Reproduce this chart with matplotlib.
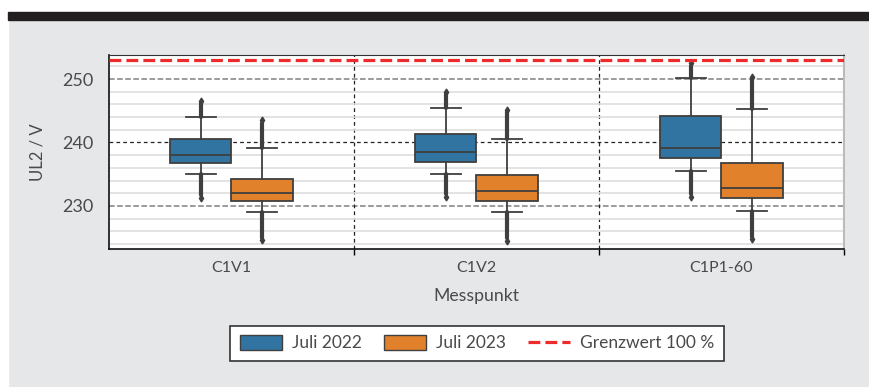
import matplotlib.pyplot as plt
from matplotlib.patches import Patch, Rectangle
from matplotlib.lines import Line2D

# Data (per category: [Juli 2022, Juli 2023])
categories = ["C1V1", "C1V2", "C1P1-60"]
series = ["Juli 2022", "Juli 2023"]
q1 = [[236.7, 230.7], [236.9, 230.8], [237.5, 231.2]]
med = [[238.1, 232.1], [238.5, 232.3], [239.1, 232.8]]
q3 = [[240.5, 234.3], [241.3, 234.8], [244.2, 236.7]]
whislo = [[235.0, 229.0], [235.1, 229.0], [235.5, 229.2]]
whishi = [[244.0, 239.1], [245.5, 240.6], [250.2, 245.3]]
flier_lo = [[231.3, 224.6], [231.4, 224.5], [231.4, 224.7]]
flier_hi = [[246.6, 243.5], [248.0, 245.2], [252.5, 250.4]]
grenzwert = 253

colors = ["#3274a1", "#e1812c"]
line_col = "#3f3f3f"
text_col = "#4a4a4a"

plt.rcParams["font.family"] = ["Lato", "DejaVu Sans"]

fig = plt.figure(figsize=(8.69, 3.87), dpi=100, facecolor="#e6e7e9")
# page decoration: white margin on left/top and black band
fig.patches.append(Rectangle((0, 0), 8 / 869, 1, transform=fig.transFigure,
                             color="white", zorder=-2))
fig.patches.append(Rectangle((0, 1 - 12 / 387), 1, 12 / 387, transform=fig.transFigure,
                             color="white", zorder=-2))
fig.patches.append(Rectangle((8 / 869, 1 - 20 / 387), 1, 8 / 387, transform=fig.transFigure,
                             color="#231f20", zorder=-1))

ax = fig.add_axes([0.1254, 0.3566, 0.8458, 0.5013])
ax.set_facecolor("white")

width = 0.25
for j, s in enumerate(series):
    stats = []
    pos = []
    for i in range(len(categories)):
        stats.append(dict(med=med[i][j], q1=q1[i][j], q3=q3[i][j],
                          whislo=whislo[i][j], whishi=whishi[i][j], fliers=[]))
        pos.append(i + (j - 0.5) * width)
    ax.bxp(stats, positions=pos, widths=width, capwidths=width / 2,
           patch_artist=True, showfliers=False, manage_ticks=False,
           boxprops=dict(facecolor=colors[j], edgecolor=line_col, linewidth=1.3),
           medianprops=dict(color=line_col, linewidth=1.3),
           whiskerprops=dict(color=line_col, linewidth=1.3),
           capprops=dict(color=line_col, linewidth=1.3), zorder=3)
    # dense outliers beyond the whiskers
    for i in range(len(categories)):
        x = pos[i]
        ax.plot([x, x], [whishi[i][j], flier_hi[i][j] - 0.4], color=line_col,
                lw=3, solid_capstyle="round", zorder=2.5)
        ax.plot([x, x], [whislo[i][j], flier_lo[i][j] + 0.4], color=line_col,
                lw=3, solid_capstyle="round", zorder=2.5)
        ax.plot([x, x], [flier_hi[i][j], flier_lo[i][j]], ls="none", marker="d",
                ms=3.5, color=line_col, zorder=2.5)

ax.set_xlim(-0.5, 2.5)
ax.set_ylim(223.2, 253.8)

# grid
ax.set_yticks([230, 240, 250])
ax.set_yticks(range(224, 254, 2), minor=True)
ax.grid(axis="y", which="minor", color="#dedede", lw=1.2, zorder=0)
for y in [230, 250]:
    ax.axhline(y, color="#808080", ls="--", lw=1.1, zorder=1)
ax.axhline(240, color="#222222", ls=(0, (3, 2.5)), lw=0.9, zorder=1)
for x in [0.5, 1.5]:
    ax.axvline(x, color="#222222", ls=(0, (3, 2.5)), lw=0.9, zorder=1)
ax.axhline(grenzwert, color="#ee2a2a", ls="--", lw=2.3, zorder=4)

# x ticks: separators as major ticks, labels on minor ticks
ax.set_xticks([0.5, 1.5, 2.5])
ax.set_xticklabels([])
ax.set_xticks(range(len(categories)), minor=True)
ax.set_xticklabels(categories, minor=True)
ax.tick_params(axis="x", which="major", length=4, width=1, color="black")
ax.tick_params(axis="x", which="minor", length=0, pad=9, labelsize=11.5, labelcolor=text_col)
ax.tick_params(axis="y", which="both", length=0, pad=11, labelsize=13, labelcolor=text_col)

for side in ["left", "bottom"]:
    ax.spines[side].set_color("#111111")
    ax.spines[side].set_linewidth(1.2)
ax.spines["top"].set_color("#333333")
ax.spines["right"].set_color("#bbbbbb")
ax.spines["right"].set_linewidth(1.5)

ax.set_ylabel("UL2 / V", fontsize=12, color=text_col)
ax.yaxis.set_label_coords(-0.087, 0.5)
ax.set_xlabel("Messpunkt", fontsize=12.7, color=text_col)
ax.xaxis.set_label_coords(0.5, -0.2)

handles = [Patch(facecolor=colors[0], edgecolor=line_col, label=series[0]),
           Patch(facecolor=colors[1], edgecolor=line_col, label=series[1]),
           Line2D([], [], color="#ee2a2a", ls="--", lw=2.3, label="Grenzwert 100 %")]
leg = fig.legend(handles=handles, loc="center", bbox_to_anchor=(0.549, 0.113), ncol=3,
                 fontsize=12.5, frameon=True, fancybox=False, framealpha=1,
                 edgecolor="#333333", facecolor="white", handlelength=2.4,
                 handleheight=0.9, handletextpad=0.58, columnspacing=1.3,
                 borderpad=0.55)
leg.get_frame().set_linewidth(1.2)
for t in leg.get_texts():
    t.set_color(text_col)

fig.savefig("out.png", dpi=100, facecolor=fig.get_facecolor())
